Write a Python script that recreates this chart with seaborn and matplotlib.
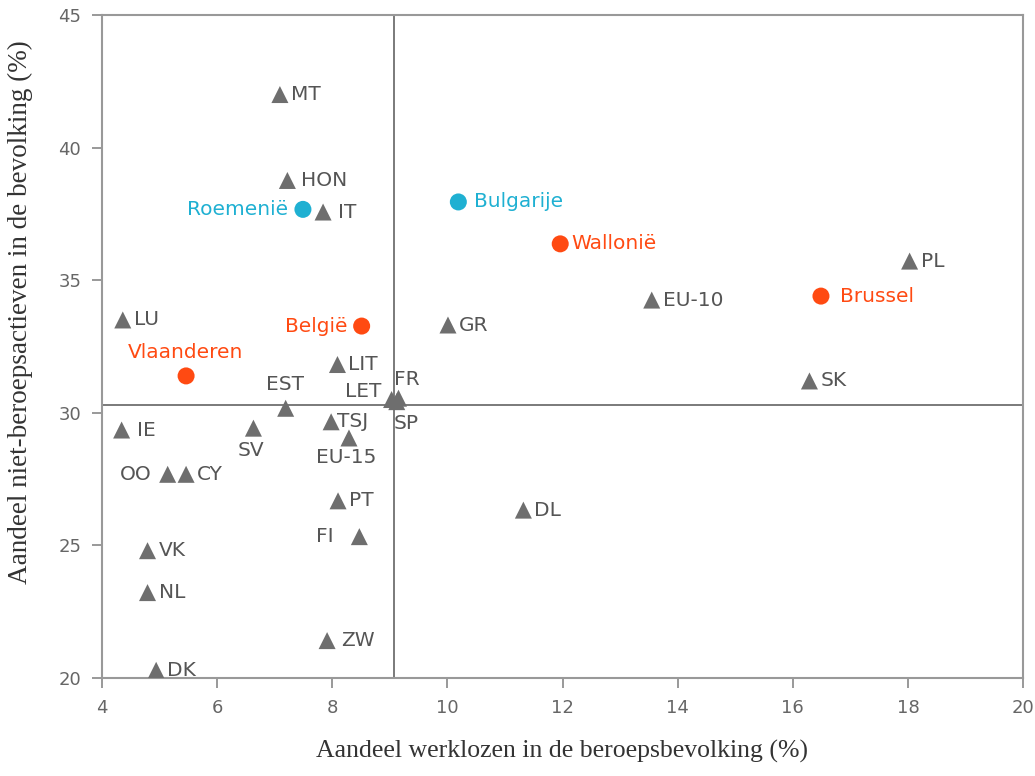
import matplotlib
matplotlib.use("Agg")
import matplotlib.pyplot as plt
import pandas as pd
import seaborn as sns

# data
labels = ["MT", "HON", "IT", "LU", "LIT", "EST", "LET", "FR", "SP", "TSJ", "EU-15",
          "IE", "SV", "OO", "CY", "PT", "FI", "VK", "NL", "ZW", "DK",
          "DL", "GR", "EU-10", "SK", "PL",
          "België", "Vlaanderen", "Wallonië", "Brussel",
          "Roemenië", "Bulgarije"]
werkloos = [7.09, 7.22, 7.84, 4.36, 8.09, 7.19, 9.03, 9.15, 9.12, 7.98, 8.29,
            4.34, 6.63, 5.14, 5.46, 8.10, 8.47, 4.79, 4.79, 7.91, 4.94,
            11.32, 10.01, 13.55, 16.29, 18.03,
            8.51, 5.46, 11.96, 16.49,
            7.49, 10.19]
niet_actief = [42.0, 38.76, 37.57, 33.5, 31.82, 30.17, 30.5, 30.55, 30.42, 29.66, 29.05,
               29.35, 29.42, 27.68, 27.68, 26.68, 25.33, 24.80, 23.22, 21.41, 20.29,
               26.33, 33.31, 34.25, 31.2, 35.72,
               33.27, 31.39, 36.37, 34.4,
               37.67, 37.95]
groep = ["EU"] * 26 + ["BE"] * 4 + ["nieuw"] * 2

gem_werkloos = 9.07
gem_niet_actief = 30.3

df = pd.DataFrame({"label": labels, "x": werkloos, "y": niet_actief, "groep": groep})

grijs = "#6e6e6e"
oranje = "#ff4a12"
blauw = "#1fb0d2"
kleuren = {"EU": grijs, "BE": oranje, "nieuw": blauw}

# label placement: (dx, dy) in pixels, horizontal alignment
plaats = {
    "Roemenië": (-15, 0, "right"), "België": (-14, 0, "right"),
    "Vlaanderen": (-1, 23, "center"), "EST": (-1, 24, "center"),
    "LET": (-10, 8, "right"), "FR": (-4, 19, "left"), "SP": (-3, -22, "left"),
    "EU-15": (-3, -20, "center"), "SV": (-2, -22, "center"),
    "OO": (-16, 0, "right"), "FI": (-26, 0, "right"), "TSJ": (6, 0, "left"),
    "IE": (15, 0, "left"), "HON": (14, 0, "left"), "IT": (15, 0, "left"),
    "ZW": (14, 0, "left"), "Brussel": (19, 0, "left"), "Bulgarije": (16, 0, "left"),
}

sns.set_theme(style="white")
plt.rcParams["font.family"] = ["DejaVu Sans"]

fig, ax = plt.subplots(figsize=(10.35, 7.76), dpi=100)
fig.subplots_adjust(left=0.0986, right=0.9884, bottom=0.1263, top=0.9807)

ax.axvline(gem_werkloos, color="#707070", lw=1.3, zorder=1)
ax.axhline(gem_niet_actief, color="#707070", lw=1.3, zorder=1)

sns.scatterplot(data=df, x="x", y="y", hue="groep", style="groep", size="groep",
                palette=kleuren, markers={"EU": "^", "BE": "o", "nieuw": "o"},
                sizes={"EU": 150, "BE": 150, "nieuw": 150},
                edgecolor="none", legend=False, ax=ax, zorder=3)

for _, r in df.iterrows():
    dx, dy, ha = plaats.get(r["label"], (11, 0, "left"))
    kleur = "#555555" if r["groep"] == "EU" else kleuren[r["groep"]]
    ax.annotate(r["label"], (r["x"], r["y"]), xytext=(dx * 0.72, dy * 0.72),
                textcoords="offset points", ha=ha, va="center",
                fontsize=14.5, color=kleur, zorder=4)

ax.set_xlim(4, 20)
ax.set_ylim(20, 45)
ax.set_xticks(range(4, 21, 2))
ax.set_yticks(range(20, 46, 5))
ax.tick_params(axis="both", direction="out", length=7, width=1.2, color="#888888",
               labelcolor="#666666", labelsize=13, left=True, bottom=True, pad=8)
for sp in ax.spines.values():
    sp.set_color("#999999")
    sp.set_linewidth(1.5)

ax.set_xlabel("Aandeel werklozen in de beroepsbevolking (%)", family="Liberation Serif",
              fontsize=18.5, color="#333333")
ax.set_ylabel("Aandeel niet-beroepsactieven in de bevolking (%)", family="Liberation Serif",
              fontsize=19.5, color="#333333")
ax.xaxis.set_label_coords(0.4995, -0.094)
ax.yaxis.set_label_coords(-0.075, 0.552)

plt.savefig("out.png", dpi=100)
